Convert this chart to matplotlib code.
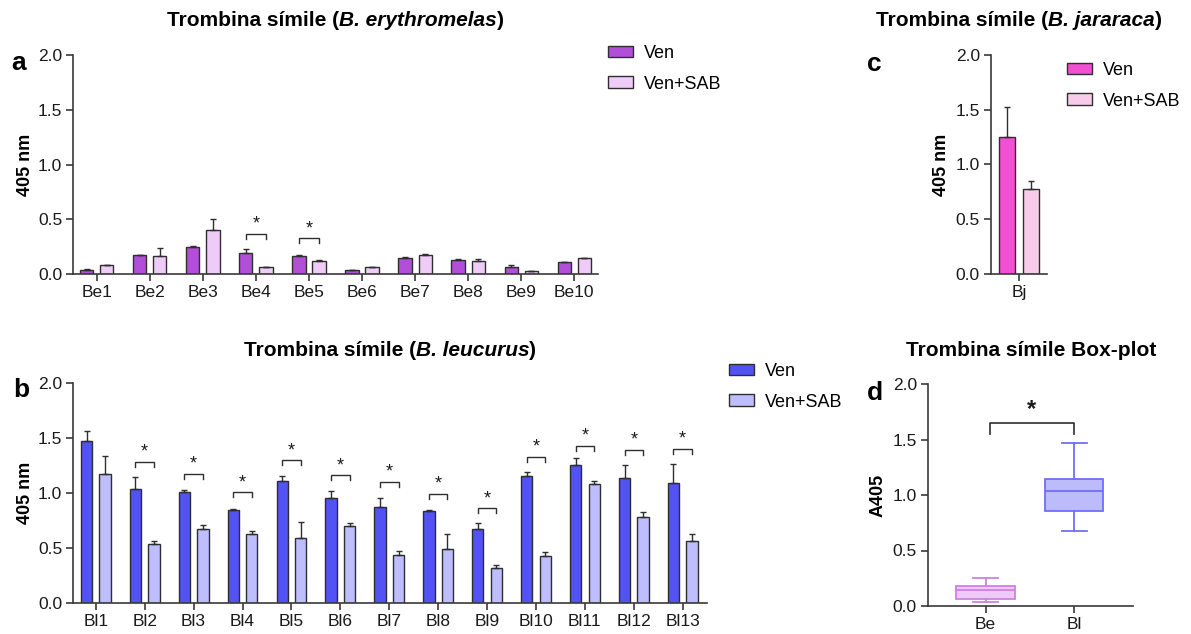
import numpy as np
import matplotlib.pyplot as plt

plt.rcParams['font.family'] = ['Liberation Sans', 'DejaVu Sans']

## panel a - B. erythromelas
be_labels = ['Be1', 'Be2', 'Be3', 'Be4', 'Be5', 'Be6', 'Be7', 'Be8', 'Be9', 'Be10']
be_ven = [0.043, 0.174, 0.253, 0.198, 0.167, 0.037, 0.152, 0.131, 0.064, 0.110]
be_ven_err = [0.006, 0.006, 0.007, 0.030, 0.010, 0.006, 0.006, 0.012, 0.018, 0.005]
be_sab = [0.085, 0.170, 0.400, 0.064, 0.119, 0.064, 0.177, 0.119, 0.027, 0.145]
be_sab_err = [0.003, 0.067, 0.100, 0.003, 0.015, 0.003, 0.006, 0.018, 0.003, 0.005]
be_sig = [3, 4]
be_sig_y = [0.37, 0.33]

## panel b - B. leucurus
bl_labels = ['Bl1', 'Bl2', 'Bl3', 'Bl4', 'Bl5', 'Bl6', 'Bl7', 'Bl8', 'Bl9', 'Bl10', 'Bl11', 'Bl12', 'Bl13']
bl_ven = [1.474, 1.033, 1.009, 0.842, 1.112, 0.957, 0.869, 0.836, 0.672, 1.158, 1.258, 1.140, 1.088]
bl_ven_err = [0.094, 0.110, 0.018, 0.012, 0.043, 0.061, 0.088, 0.009, 0.051, 0.030, 0.061, 0.118, 0.176]
bl_sab = [1.170, 0.532, 0.675, 0.629, 0.593, 0.696, 0.432, 0.486, 0.313, 0.426, 1.085, 0.784, 0.562]
bl_sab_err = [0.164, 0.033, 0.033, 0.024, 0.143, 0.033, 0.042, 0.143, 0.027, 0.036, 0.024, 0.046, 0.061]
bl_sig = [1, 2, 3, 4, 5, 6, 7, 8, 9, 10, 11, 12]
bl_sig_y = [1.286, 1.173, 1.006, 1.298, 1.161, 1.103, 0.994, 0.860, 1.331, 1.429, 1.395, 1.404]

## panel c - B. jararaca
bj_labels = ['Bj']
bj_ven = [1.248]
bj_ven_err = [0.277]
bj_sab = [0.779]
bj_sab_err = [0.070]

## panel d - box plot (min, q1, median, q3, max)
box_groups = ['Be', 'Bl']
box_min = [0.033, 0.673]
box_q1 = [0.063, 0.859]
box_med = [0.141, 1.036]
box_q3 = [0.180, 1.141]
box_max = [0.255, 1.471]

W, H = 1191, 634
EDGE = '#2e2e2e'
AXC = '#3a3a3a'

fig = plt.figure(figsize=(W / 100, H / 100), dpi=100)


def px_axes(l, t, r, b):
    return fig.add_axes([l / W, 1 - b / H, (r - l) / W, (b - t) / H])


def style(ax):
    for s in ['top', 'right']:
        ax.spines[s].set_visible(False)
    for s in ['left', 'bottom']:
        ax.spines[s].set_linewidth(1.2)
        ax.spines[s].set_color(AXC)
    ax.tick_params(color=AXC, labelcolor='#1a1a1a', width=1.2, length=5, labelsize=12.5, pad=3)
    ax.set_ylim(0, 2)
    ax.set_yticks([0, 0.5, 1.0, 1.5, 2.0])
    ax.set_yticklabels(['0.0', '0.5', '1.0', '1.5', '2.0'])


def bar_panel(ax, labels, ven, ven_err, sab, sab_err, c_ven, c_sab, width, off):
    x = np.arange(len(labels))
    ax.bar(x - off, ven, width, color=c_ven, edgecolor=EDGE, linewidth=1, label='Ven', zorder=2)
    ax.bar(x + off, sab, width, color=c_sab, edgecolor=EDGE, linewidth=1, label='Ven+SAB', zorder=2)
    zeros = np.zeros(len(x))
    ax.errorbar(x - off, ven, yerr=[zeros, ven_err], fmt='none', ecolor=EDGE,
                elinewidth=1, capsize=2.5, capthick=1, zorder=3)
    ax.errorbar(x + off, sab, yerr=[zeros, sab_err], fmt='none', ecolor=EDGE,
                elinewidth=1, capsize=2.5, capthick=1, zorder=3)
    ax.set_xticks(x)
    ax.set_xticklabels(labels)
    style(ax)


def sig(ax, idx, ys, off):
    for i, y in zip(idx, ys):
        ax.plot([i - off, i - off, i + off, i + off], [y - 0.045, y, y, y - 0.045],
                color=EDGE, lw=1, solid_joinstyle='miter')
        ax.text(i, y + 0.01, '*', ha='center', va='bottom', fontsize=13, color='#1a1a1a')


def legend(ax, x, y):
    ax.legend(loc='upper left', bbox_to_anchor=(x / W, 1 - y / H), bbox_transform=fig.transFigure,
              frameon=False, fontsize=13, handlelength=1.4, handleheight=0.6,
              handletextpad=0.6, labelspacing=0.75, borderpad=0, borderaxespad=0)


def title(xc, yc, parts):
    # parts: (text, italic) pieces, laid out left to right and centred on xc
    texts = [fig.text(0, 1 - yc / H, s, ha='left', va='center', fontsize=15, fontweight='bold',
                      fontstyle='italic' if it else 'normal') for s, it in parts]
    r = fig.canvas.get_renderer()
    widths = [t.get_window_extent(r).width for t in texts]
    x = xc - sum(widths) / 2
    for t, w in zip(texts, widths):
        t.set_x(x / W)
        x += w


# a
ax_a = px_axes(73.3, 55, 597.7, 274.3)
bar_panel(ax_a, be_labels, be_ven, be_ven_err, be_sab, be_sab_err, '#b24fd8', '#efcbf7', 0.25, 0.19)
sig(ax_a, be_sig, be_sig_y, 0.19)
ax_a.set_xlim(-0.44, 9.44)
legend(ax_a, 608, 45)

# b
ax_b = px_axes(73.3, 383.3, 706.7, 602.7)
bar_panel(ax_b, bl_labels, bl_ven, bl_ven_err, bl_sab, bl_sab_err, '#5252f5', '#bdbdff', 0.23, 0.19)
sig(ax_b, bl_sig, bl_sig_y, 0.19)
ax_b.set_xlim(-0.46, 12.49)
legend(ax_b, 729, 363)

# c
ax_c = px_axes(991, 55, 1047.3, 274)
bar_panel(ax_c, bj_labels, bj_ven, bj_ven_err, bj_sab, bj_sab_err, '#f24fd2', '#f9cbeb', 0.284, 0.213)
ax_c.set_xlim(-0.5, 0.5)
legend(ax_c, 1067, 62)

# d
ax_d = px_axes(928, 384, 1132.7, 606)
stats = []
for g, lo, q1, med, q3, hi in zip(box_groups, box_min, box_q1, box_med, box_q3, box_max):
    stats.append({'label': g, 'whislo': lo, 'q1': q1, 'med': med, 'q3': q3, 'whishi': hi})
bp = ax_d.bxp(stats, positions=[0, 1], widths=0.66, capwidths=0.28, patch_artist=True, showfliers=False)
box_edge = ['#d07fe6', '#6f6ff5']
box_fill = ['#efcaf7', '#bcbcfa']
for i in range(2):
    bp['boxes'][i].set_facecolor(box_fill[i])
    bp['boxes'][i].set_edgecolor(box_edge[i])
    bp['boxes'][i].set_linewidth(1.3)
    bp['medians'][i].set_color(box_edge[i])
    bp['medians'][i].set_linewidth(1.3)
    for j in (2 * i, 2 * i + 1):
        bp['whiskers'][j].set_color(box_edge[i])
        bp['whiskers'][j].set_linewidth(1.3)
        bp['caps'][j].set_color(box_edge[i])
        bp['caps'][j].set_linewidth(1.3)
style(ax_d)
ax_d.set_xlim(-0.65, 1.66)
ax_d.plot([0.05, 0.05, 1.0, 1.0], [1.553, 1.649, 1.649, 1.553], color=EDGE, lw=1.2)
ax_d.text(0.52, 1.665, '*', ha='center', va='bottom', fontsize=17, fontweight='bold', color='#1a1a1a')

# titles
title(335.5, 20, [('Trombina símile (', False), ('B. erythromelas', True), (')', False)])
title(390, 350, [('Trombina símile (', False), ('B. leucurus', True), (')', False)])
title(1019, 20, [('Trombina símile (', False), ('B. jararaca', True), (')', False)])
title(1031, 350, [('Trombina símile Box-plot', False)])

# y labels
fig.text(25 / W, 1 - 164.5 / H, '405 nm', rotation=90, ha='center', va='center', fontsize=13, fontweight='bold')
fig.text(25 / W, 1 - 493 / H, '405 nm', rotation=90, ha='center', va='center', fontsize=13, fontweight='bold')
fig.text(942 / W, 1 - 164.5 / H, '405 nm', rotation=90, ha='center', va='center', fontsize=13, fontweight='bold')
fig.text(878 / W, 1 - 495 / H, 'A405', rotation=90, ha='center', va='center', fontsize=13, fontweight='bold')

# panel letters
for letter, x, y in [('a', 11, 70), ('b', 13, 397), ('c', 867, 71), ('d', 867, 400)]:
    fig.text(x / W, 1 - y / H, letter, ha='left', va='baseline', fontsize=19, fontweight='bold')

plt.savefig('out.png', dpi=100)
